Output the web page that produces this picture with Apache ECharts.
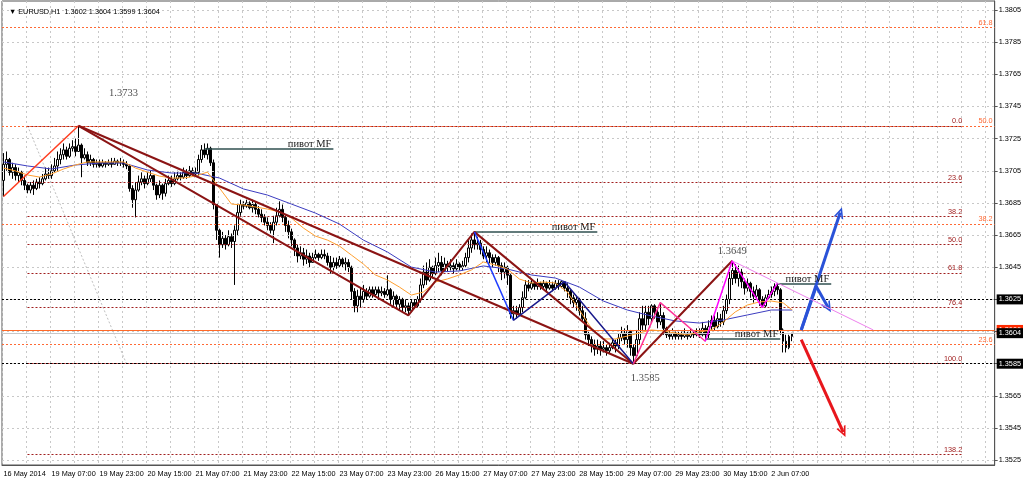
<!DOCTYPE html>
<html><head><meta charset="utf-8">
<script src="https://cdn.jsdelivr.net/npm/echarts@6/dist/echarts.min.js"></script>
<style>html,body{margin:0;padding:0;background:#fff}#c{width:1024px;height:482px}</style>
</head><body><div id="c"></div>
<script>
const symbolName = 'EURUSD,H1';
const firstOpen = 1.3699;
const closes = [
1.3709,1.3712,1.3704,1.3707,1.3702,1.3704,1.3699,1.3696,1.3693,1.3696,
1.3694,1.3698,1.3697,1.3700,1.3703,1.3702,1.3705,1.3708,1.3712,1.3715,
1.3718,1.3714,1.3719,1.3720,1.3717,1.3721,1.3713,1.3715,1.3710,1.3712,
1.3709,1.3710,1.3708,1.3710,1.3709,1.3710,1.3709,1.3711,1.3710,1.3710,
1.3709,1.3708,1.3694,1.3687,1.3693,1.3698,1.3700,1.3697,1.3700,1.3702,
1.3696,1.3690,1.3696,1.3691,1.3697,1.3699,1.3697,1.3700,1.3702,1.3701,
1.3704,1.3702,1.3705,1.3703,1.3704,1.3712,1.3718,1.3715,1.3719,1.3710,
1.3684,1.3668,1.3659,1.3663,1.3659,1.3664,1.3661,1.3668,1.3679,1.3684,
1.3683,1.3685,1.3682,1.3684,1.3681,1.3678,1.3676,1.3673,1.3671,1.3668,
1.3673,1.3677,1.3681,1.3676,1.3671,1.3667,1.3662,1.3657,1.3652,1.3654,
1.3650,1.3652,1.3648,1.3651,1.3653,1.3651,1.3653,1.3652,1.3648,1.3645,
1.3648,1.3646,1.3650,1.3647,1.3648,1.3645,1.3630,1.3621,1.3627,1.3625,
1.3630,1.3627,1.3631,1.3628,1.3631,1.3629,1.3630,1.3628,1.3631,1.3625,
1.3627,1.3622,1.3625,1.3620,1.3621,1.3618,1.3623,1.3621,1.3625,1.3634,
1.3642,1.3637,1.3645,1.3641,1.3646,1.3648,1.3643,1.3647,1.3645,1.3646,
1.3644,1.3647,1.3645,1.3646,1.3651,1.3657,1.3662,1.3659,1.3660,1.3656,
1.3652,1.3654,1.3651,1.3648,1.3651,1.3646,1.3642,1.3645,1.3640,1.3616,
1.3618,1.3616,1.3620,1.3626,1.3634,1.3632,1.3635,1.3633,1.3635,1.3633,
1.3635,1.3632,1.3634,1.3632,1.3635,1.3633,1.3636,1.3632,1.3630,1.3626,
1.3623,1.3625,1.3618,1.3613,1.3603,1.3600,1.3597,1.3594,1.3596,1.3594,
1.3595,1.3593,1.3595,1.3598,1.3596,1.3601,1.3604,1.3600,1.3605,1.3595,
1.3590,1.3600,1.3613,1.3609,1.3617,1.3613,1.3621,1.3617,1.3611,1.3615,
1.3607,1.3603,1.3602,1.3604,1.3602,1.3603,1.3602,1.3604,1.3602,1.3604,
1.3603,1.3605,1.3603,1.3607,1.3603,1.3608,1.3612,1.3608,1.3613,1.3611,
1.3618,1.3625,1.3638,1.3643,1.3638,1.3642,1.3636,1.3632,1.3635,1.3630,
1.3627,1.3631,1.3625,1.3621,1.3626,1.3628,1.3630,1.3633,1.3631,1.3606,
1.3599,1.3595,1.3602,1.3604];
const highs = [
1.3716,1.3717,1.3713,1.3710,1.3709,1.3707,1.3705,1.3702,1.3697,1.3698,
1.3699,1.3700,1.3701,1.3703,1.3707,1.3707,1.3709,1.3713,1.3717,1.3719,
1.3722,1.3720,1.3722,1.3724,1.3725,1.3733,1.3722,1.3719,1.3717,1.3715,
1.3713,1.3712,1.3712,1.3712,1.3711,1.3712,1.3713,1.3713,1.3712,1.3713,
1.3712,1.3711,1.3709,1.3696,1.3698,1.3702,1.3704,1.3702,1.3704,1.3705,
1.3702,1.3697,1.3699,1.3697,1.3700,1.3702,1.3702,1.3704,1.3705,1.3704,
1.3707,1.3706,1.3708,1.3707,1.3707,1.3715,1.3721,1.3722,1.3722,1.3720,
1.3712,1.3684,1.3669,1.3667,1.3665,1.3668,1.3666,1.3671,1.3684,1.3687,
1.3686,1.3687,1.3686,1.3687,1.3686,1.3683,1.3681,1.3678,1.3676,1.3673,
1.3677,1.3682,1.3686,1.3684,1.3678,1.3674,1.3669,1.3663,1.3659,1.3658,
1.3657,1.3656,1.3654,1.3654,1.3656,1.3654,1.3656,1.3656,1.3654,1.3652,
1.3651,1.3651,1.3652,1.3651,1.3651,1.3650,1.3646,1.3632,1.3631,1.3632,
1.3634,1.3632,1.3633,1.3633,1.3633,1.3633,1.3633,1.3632,1.3640,1.3632,
1.3630,1.3628,1.3627,1.3626,1.3625,1.3623,1.3625,1.3625,1.3627,1.3638,
1.3646,1.3648,1.3650,1.3646,1.3651,1.3654,1.3652,1.3651,1.3649,1.3650,
1.3648,1.3650,1.3648,1.3649,1.3654,1.3662,1.3666,1.3667,1.3664,1.3662,
1.3658,1.3658,1.3656,1.3653,1.3653,1.3652,1.3648,1.3648,1.3646,1.3641,
1.3621,1.3621,1.3622,1.3630,1.3637,1.3637,1.3638,1.3636,1.3638,1.3636,
1.3637,1.3636,1.3637,1.3636,1.3637,1.3637,1.3637,1.3636,1.3635,1.3631,
1.3628,1.3627,1.3626,1.3621,1.3617,1.3606,1.3602,1.3600,1.3600,1.3599,
1.3599,1.3597,1.3598,1.3601,1.3600,1.3604,1.3608,1.3607,1.3609,1.3606,
1.3597,1.3606,1.3617,1.3621,1.3621,1.3621,1.3622,1.3622,1.3620,1.3623,
1.3617,1.3608,1.3606,1.3607,1.3605,1.3606,1.3605,1.3607,1.3605,1.3607,
1.3606,1.3607,1.3607,1.3611,1.3609,1.3612,1.3615,1.3615,1.3617,1.3616,
1.3621,1.3628,1.3642,1.3649,1.3647,1.3646,1.3644,1.3638,1.3638,1.3636,
1.3633,1.3634,1.3632,1.3627,1.3628,1.3631,1.3633,1.3635,1.3635,1.3632,
1.3607,1.3603,1.3603,1.3604];
const lows = [
1.3689,1.3705,1.3702,1.3700,1.3699,1.3698,1.3696,1.3693,1.3691,1.3691,
1.3690,1.3693,1.3694,1.3696,1.3699,1.3700,1.3700,1.3704,1.3705,1.3709,
1.3712,1.3712,1.3713,1.3717,1.3714,1.3717,1.3701,1.3712,1.3708,1.3708,
1.3707,1.3707,1.3707,1.3707,1.3707,1.3708,1.3707,1.3709,1.3708,1.3708,
1.3707,1.3706,1.3692,1.3682,1.3676,1.3692,1.3696,1.3694,1.3696,1.3698,
1.3693,1.3687,1.3688,1.3687,1.3689,1.3696,1.3695,1.3696,1.3699,1.3699,
1.3700,1.3700,1.3701,1.3702,1.3702,1.3702,1.3710,1.3713,1.3712,1.3708,
1.3681,1.3662,1.3651,1.3657,1.3656,1.3658,1.3657,1.3634,1.3665,1.3677,
1.3681,1.3682,1.3681,1.3679,1.3678,1.3676,1.3673,1.3671,1.3668,1.3666,
1.3660,1.3671,1.3676,1.3673,1.3667,1.3663,1.3658,1.3652,1.3648,1.3650,
1.3646,1.3647,1.3645,1.3648,1.3650,1.3649,1.3650,1.3650,1.3646,1.3641,
1.3643,1.3644,1.3645,1.3645,1.3643,1.3642,1.3625,1.3617,1.3617,1.3620,
1.3623,1.3625,1.3626,1.3626,1.3627,1.3626,1.3627,1.3626,1.3627,1.3622,
1.3621,1.3620,1.3618,1.3617,1.3617,1.3615,1.3617,1.3619,1.3620,1.3623,
1.3632,1.3634,1.3636,1.3638,1.3640,1.3642,1.3640,1.3642,1.3642,1.3643,
1.3641,1.3643,1.3643,1.3643,1.3645,1.3648,1.3654,1.3656,1.3656,1.3653,
1.3650,1.3648,1.3647,1.3645,1.3646,1.3642,1.3637,1.3638,1.3634,1.3613,
1.3612,1.3613,1.3615,1.3617,1.3625,1.3630,1.3631,1.3631,1.3631,1.3631,
1.3632,1.3630,1.3631,1.3630,1.3631,1.3631,1.3632,1.3630,1.3626,1.3622,
1.3620,1.3618,1.3615,1.3611,1.3600,1.3596,1.3592,1.3590,1.3591,1.3590,
1.3592,1.3590,1.3591,1.3594,1.3592,1.3594,1.3599,1.3597,1.3595,1.3590,
1.3585,1.3589,1.3597,1.3606,1.3606,1.3609,1.3611,1.3613,1.3607,1.3609,
1.3603,1.3601,1.3600,1.3600,1.3600,1.3600,1.3600,1.3601,1.3600,1.3601,
1.3601,1.3602,1.3601,1.3602,1.3599,1.3601,1.3606,1.3606,1.3607,1.3608,
1.3609,1.3616,1.3622,1.3634,1.3635,1.3633,1.3632,1.3628,1.3630,1.3626,
1.3623,1.3625,1.3621,1.3620,1.3620,1.3625,1.3626,1.3627,1.3628,1.3603,
1.3592,1.3592,1.3594,1.3599];

// moving averages: [bar, value]
const blueMA = [[0,1.37105],[8,1.37080],[16,1.37061],[24,1.37086],[32,1.37098],[40,1.37098],[48,1.37055],[56,1.37036],[64,1.37036],[72,1.37005],[80,1.36937],[88,1.36899],[96,1.36843],[104,1.36787],[112,1.36719],[120,1.36619],[128,1.36545],[136,1.36451],[144,1.36420],[152,1.36427],[160,1.36458],[168,1.36439],[176,1.36402],[184,1.36383],[192,1.36327],[200,1.36240],[208,1.36184],[216,1.36147],[224,1.36116],[232,1.36103],[240,1.36122],[248,1.36153],[256,1.36184],[263,1.36184]];
const orangeMA = [[0,1.37067],[4,1.37049],[8,1.37024],[12,1.37011],[16,1.37030],[20,1.37061],[24,1.37086],[28,1.37105],[32,1.37105],[36,1.37105],[40,1.37105],[44,1.37067],[48,1.37042],[52,1.37017],[56,1.37005],[60,1.37005],[64,1.37017],[68,1.37042],[72,1.36943],[76,1.36843],[80,1.36837],[84,1.36825],[88,1.36812],[92,1.36794],[96,1.36756],[100,1.36694],[104,1.36644],[108,1.36619],[112,1.36582],[116,1.36526],[120,1.36470],[124,1.36402],[128,1.36371],[132,1.36327],[136,1.36277],[140,1.36296],[144,1.36358],[148,1.36377],[152,1.36402],[156,1.36433],[160,1.36483],[164,1.36464],[168,1.36439],[172,1.36377],[176,1.36352],[180,1.36358],[184,1.36352],[188,1.36296],[192,1.36184],[196,1.36072],[200,1.36004],[204,1.36004],[208,1.36022],[212,1.36041],[216,1.36060],[220,1.36053],[224,1.36041],[228,1.36029],[232,1.36047],[236,1.36060],[240,1.36109],[244,1.36172],[248,1.36215],[252,1.36234],[256,1.36240],[260,1.36228],[263,1.36184]];

const xTickLabels = ['16 May 2014','19 May 07:00','19 May 23:00','20 May 15:00','21 May 07:00','21 May 23:00','22 May 15:00','23 May 07:00','23 May 23:00','26 May 15:00','27 May 07:00','27 May 23:00','28 May 15:00','29 May 07:00','29 May 23:00','30 May 15:00','2 Jun 07:00'];
const yTickValues = [1.3525,1.3545,1.3565,1.3585,1.3605,1.3625,1.3645,1.3665,1.3685,1.3705,1.3725,1.3745,1.3765,1.3785,1.3805];

// Fibonacci levels [label, price]
const fibMain = [['0.0',1.3733],['23.6',1.3698],['38.2',1.36765],['50.0',1.3659],['61.8',1.36415],['76.4',1.36199],['100.0',1.3585],['138.2',1.35285]];
const fibWide = [['61.8',1.3794],['50.0',1.3733],['38.2',1.3672],['23.6',1.3597]];

// zigzag vertices [bar, price]
const zzRed = [[0,1.3689],[25,1.3733]];
const zzDarkA = [[25,1.3733],[135,1.3615],[157,1.3667],[210,1.3585],[243,1.3649]];
const zzDarkB = [[25,1.3733],[210,1.3585]];
const zzBlue = [[157,1.3667],[170,1.3612]];
const zzNavy = [[170,1.3612],[187,1.3636],[210,1.3585]];
const zzPink = [[210,1.3585],[219,1.3623],[234,1.3599]];
const zzMagenta = [[234,1.3599],[243,1.3649],[253,1.3620],[258,1.3635]];
const zzViolet = [[243,1.3649],[290,1.3606]];
const fibDiag = [[8,1.3733],[41,1.3585]];
// pivots [fromBar, toBar, price]
const pivots = [[67,110,1.3719],[157,198,1.3667],[234,259,1.36005],[258,276,1.3635]];
// forecast arrows
const arrowBlueA = [[266,1.3606],[271,1.3633],[275,1.3620]];
const arrowBlueB = [[266,1.3606],[279,1.3679]];
const arrowRed = [[266,1.3600],[280,1.35425]];
// notes [bar, price, text]
const notes = [[40,1.37534,'1.3733'],[243,1.36547,'1.3649'],[214,1.35759,'1.3585']];
// price marker lines
const askPrice = 1.3606, bidPrice = 1.3604, lvlHigh = 1.3625, lvlLow = 1.3585;

const N = 331;
const cats = Array.from({length:N},(_,i)=>String(i));
const candles = closes.map((c,i)=>{
  const o = i===0 ? firstOpen : closes[i-1];
  return [o, c, Math.min(lows[i],o,c), Math.max(highs[i],o,c)];
});
const last = candles[candles.length-1];
const header = '\u25BC ' + symbolName + '  ' + [last[0],last[3],last[2],last[1]].map(v=>v.toFixed(4)).join(' ');

const SANS = 'Liberation Sans';
const SERIF = 'Liberation Serif';
const CHEVRON = 'path://M0,10 L5,0 L10,10 L8.2,10 L5,3.6 L1.8,10 Z';
function polyline(name, pts, color, width, z, type){
  return {type:'line', name, data:pts, z, symbol:'none', silent:true,
    lineStyle:{color, width, type:type||'solid'}};
}
function arrowLines(pts, color){
  const d=[];
  for(let i=0;i<pts.length-1;i++){
    d.push([{coord:pts[i],symbol:'none',lineStyle:{color,width:3,type:'solid'},itemStyle:{color}},
            {coord:pts[i+1],symbol: i===pts.length-2?CHEVRON:'none',symbolSize:[10,11],itemStyle:{color}}]);
  }
  return d;
}

const chart = echarts.init(document.getElementById('c'), null, {renderer:'canvas'});
chart.setOption({
  animation:false,
  backgroundColor:'#ffffff',
  title:{text:header,left:4,top:3,textStyle:{fontSize:7.3,fontWeight:'normal',fontFamily:SANS,color:'#000'}},
  grid:{left:2,right:29,top:1,bottom:17,show:true,borderColor:'#555',borderWidth:1,backgroundColor:'#fff'},
  xAxis:{type:'category',data:cats,boundaryGap:true,
    axisLine:{lineStyle:{color:'#555'}},
    axisTick:{interval:(i)=>i%16===0 && i<264,length:4,lineStyle:{color:'#555'}},
    axisLabel:{interval:(i)=>i%16===0 && i<264,formatter:(v,i)=>xTickLabels[i/16]||'',align:'left',fontSize:7.3,fontFamily:SANS,color:'#000',margin:5},
    splitLine:{show:true,interval:(i)=>i%8===0,lineStyle:{color:'#c8c8c8',type:[2,3],width:1}}},
  yAxis:{type:'value',position:'right',min:1.3522,max:1.38106,scale:true,
    axisLine:{show:true,lineStyle:{color:'#555'}},
    axisTick:{show:true,customValues:yTickValues,length:3,lineStyle:{color:'#555'}},
    axisLabel:{customValues:yTickValues,formatter:(v)=>v.toFixed(4),fontSize:7.3,fontFamily:SANS,color:'#000',margin:4},
    splitLine:{show:false}},
  series:[
    {type:'line',name:'hgrid',data:[],z:1,silent:true,
      markLine:{silent:true,precision:6,symbol:['none','none'],lineStyle:{color:'#c8c8c8',type:[2,3],width:1},label:{show:false},
        data:yTickValues.map(v=>({yAxis:v}))}},
    {type:'line',name:'fibWide',data:[],z:2,silent:true,
      markLine:{silent:true,precision:6,symbol:['none','none'],lineStyle:{color:'#ff6a35',type:[2,2],width:1},
        label:{show:true,position:'insideEndTop',color:'#ff6a35',fontSize:7.3,fontFamily:SANS,distance:[2,1]},
        data:fibWide.map(([t,p])=>({yAxis:p,label:{formatter:t}}))}},
    {type:'line',name:'fibMain',data:[],z:2,silent:true,
      markLine:{silent:true,precision:6,symbol:['none','none'],lineStyle:{color:'#a01e1e',type:[2,2],width:1},
        label:{show:true,position:'insideEndTop',color:'#a01e1e',fontSize:7.3,fontFamily:SANS,distance:[1,1]},
        data:fibMain.map(([t,p])=>[{coord:[8,p],label:{formatter:t}},{coord:[320,p]}])}},
    polyline('fibDiag',fibDiag,'#c0c0c0',1,2,[2,2]),
    {type:'line',name:'levels',data:[],z:3,silent:true,
      markLine:{silent:true,precision:6,symbol:['none','none'],
        label:{show:true,position:'end',fontSize:7.3,fontFamily:SANS,color:'#fff',padding:[2,2,1,2],distance:2},
        data:[
          {yAxis:lvlHigh,lineStyle:{color:'#000',type:[2,2],width:1},label:{formatter:lvlHigh.toFixed(4),backgroundColor:'#000'}},
          {yAxis:lvlLow,lineStyle:{color:'#000',type:[2,2],width:1},label:{formatter:lvlLow.toFixed(4),backgroundColor:'#000'}},
          {yAxis:askPrice,lineStyle:{color:'#ff6a28',type:'solid',width:1},label:{formatter:askPrice.toFixed(4),backgroundColor:'#ff2a00'}},
          {yAxis:bidPrice,lineStyle:{color:'#c8c8c8',type:'solid',width:1},label:{formatter:bidPrice.toFixed(4),backgroundColor:'#000'}}
        ]}},
    {type:'candlestick',name:symbolName,data:candles,z:4,barWidth:2,silent:true,
      itemStyle:{color:'#ffffff',color0:'#000000',borderColor:'#000000',borderColor0:'#000000',borderWidth:1}},
    polyline('maSlow',blueMA,'#3c3cc0',1,5),
    polyline('maFast',orangeMA,'#ffa030',1,5),
    polyline('zzRed',zzRed,'#ff3c1e',1.5,6),
    polyline('zzDarkA',zzDarkA,'#8b1414',2,6),
    polyline('zzDarkB',zzDarkB,'#8b1414',2,6),
    polyline('zzBlue',zzBlue,'#1e3cff',1.5,6),
    polyline('zzNavy',zzNavy,'#1a1a8c',1.5,6),
    polyline('zzPink',zzPink,'#ff3399',1.5,6),
    polyline('zzMagenta',zzMagenta,'#ff00ff',1.5,6),
    polyline('zzViolet',zzViolet,'#ee82ee',1,6),
    {type:'line',name:'pivots',data:[],z:7,silent:true,
      markLine:{silent:true,precision:6,symbol:['none','none'],lineStyle:{color:'#2f4f4f',width:1.5,type:'solid'},
        label:{show:true,position:'insideEndTop',fontFamily:SERIF,fontSize:10.5,color:'#1a1a1a',distance:[2,-1]},
        data:pivots.map(([a,b,p])=>[{coord:[a,p],label:{formatter:'пивот MF'}},{coord:[b,p]}])}},
    {type:'line',name:'arrows',data:[],z:8,silent:true,
      markLine:{silent:true,precision:6,label:{show:false},
        data:[
          ...arrowLines(arrowBlueB,'#2a52d8'),
          ...arrowLines(arrowBlueA,'#2a52d8'),
          ...arrowLines(arrowRed,'#e8161c')
        ]}},
    {type:'scatter',name:'notes',z:9,silent:true,symbolSize:0,
      data:notes.map(([b,p,t])=>({value:[b,p],name:t})),
      label:{show:true,position:'inside',formatter:'{b}',fontFamily:SERIF,fontSize:10.5,color:'#1a1a1a'}}
  ]
});
</script></body></html>
